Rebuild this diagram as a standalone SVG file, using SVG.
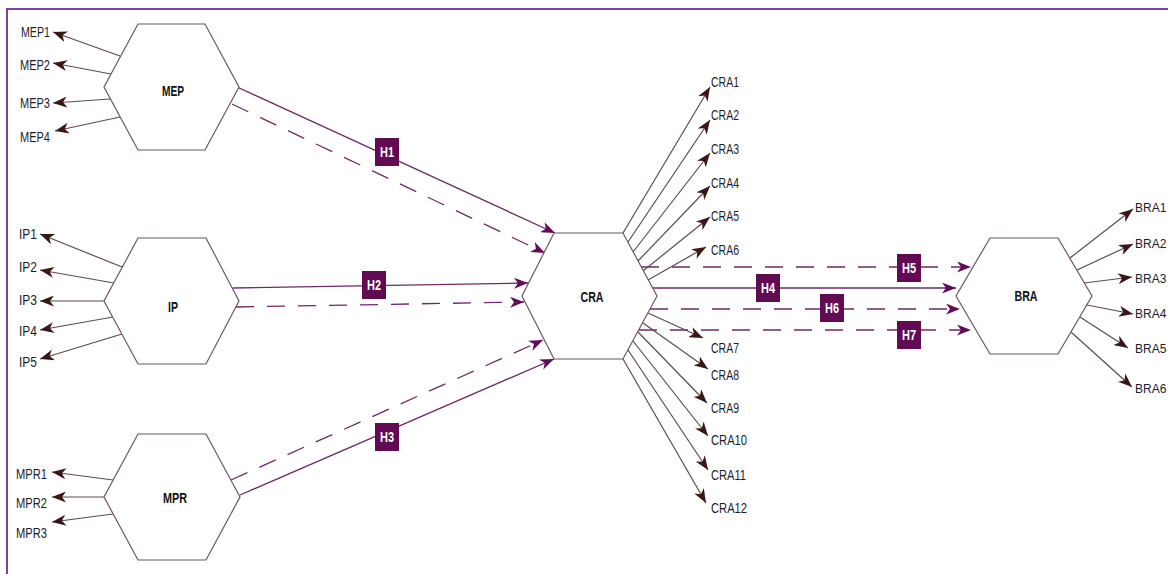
<svg xmlns="http://www.w3.org/2000/svg" width="1168" height="574" viewBox="0 0 1168 574">
<defs>
<style>
.hex{fill:#fff;stroke:#6e5464;stroke-width:1.2}
.hl{font-family:"Liberation Sans",Arial,sans-serif;font-weight:bold;font-size:14px;fill:#111;text-anchor:middle;dominant-baseline:central}
.lb{font-family:"Liberation Sans",Arial,sans-serif;font-size:14px;fill:#1c1c2c;dominant-baseline:central}
.le{text-anchor:end}
.sm{font-size:12px}
.out{stroke:#5e4a4e;stroke-width:1.2;fill:none;marker-end:url(#ab)}
.h{stroke:#6e2a62;stroke-width:1.3;fill:none;marker-end:url(#ap)}
.d{stroke-dasharray:18 13}
.box{fill:#620a52}
.bt{font-family:"Liberation Sans",Arial,sans-serif;font-weight:bold;font-size:14px;fill:#fff;text-anchor:middle;dominant-baseline:central}
</style>
<marker id="ab" markerUnits="userSpaceOnUse" markerWidth="15" markerHeight="11" refX="14" refY="5.5" orient="auto" viewBox="0 0 15 11">
<path d="M0,0 L14,5.5 L0,11 L4,5.5 z" fill="#3a1616"/>
</marker>
<marker id="ap" markerUnits="userSpaceOnUse" markerWidth="15" markerHeight="11" refX="14" refY="5.5" orient="auto" viewBox="0 0 15 11">
<path d="M0,0 L14,5.5 L0,11 L4,5.5 z" fill="#640a58"/>
</marker>
</defs>
<rect width="1168" height="574" fill="#fff"/>
<path d="M7,574 V9 H1168" fill="none" stroke="#7b3fae" stroke-width="2"/>

<g id="connectors">
<line class="h" x1="237" y1="87" x2="555" y2="233"/>
<line class="h d" x1="232" y1="104" x2="545" y2="253"/>
<line class="h" x1="233" y1="288" x2="528" y2="283"/>
<line class="h d" x1="236" y1="307" x2="524" y2="302"/>
<line class="h d" x1="231" y1="480" x2="543" y2="340"/>
<line class="h" x1="240" y1="495" x2="554" y2="359"/>
<line class="h" x1="653" y1="288" x2="956" y2="288"/>
<line class="h d" x1="641" y1="267" x2="971" y2="267"/>
<line class="h d" x1="650" y1="309" x2="960" y2="309"/>
<line class="h d" x1="639" y1="330" x2="971" y2="330"/>

<line class="out" x1="120" y1="56" x2="53" y2="32"/>
<line class="out" x1="111" y1="74" x2="53" y2="63"/>
<line class="out" x1="110" y1="99" x2="53" y2="103"/>
<line class="out" x1="120" y1="117" x2="55" y2="131"/>

<line class="out" x1="122" y1="267" x2="40" y2="234"/>
<line class="out" x1="114" y1="283" x2="40" y2="270"/>
<line class="out" x1="104" y1="301" x2="40" y2="301"/>
<line class="out" x1="113" y1="317" x2="40" y2="330"/>
<line class="out" x1="122" y1="334" x2="40" y2="359"/>

<line class="out" x1="113" y1="480" x2="52" y2="472"/>
<line class="out" x1="104" y1="497" x2="52" y2="497"/>
<line class="out" x1="113" y1="514" x2="52" y2="522"/>

<line class="out" x1="623" y1="233" x2="710" y2="87"/>
<line class="out" x1="628" y1="242" x2="710" y2="120"/>
<line class="out" x1="633" y1="252" x2="710" y2="153"/>
<line class="out" x1="638" y1="261" x2="710" y2="186"/>
<line class="out" x1="643" y1="271" x2="710" y2="217"/>
<line class="out" x1="648" y1="280" x2="706" y2="247"/>
<line class="out" x1="648" y1="313" x2="703" y2="338"/>
<line class="out" x1="643" y1="323" x2="708" y2="369"/>
<line class="out" x1="638" y1="332" x2="707" y2="403"/>
<line class="out" x1="633" y1="341" x2="708" y2="436"/>
<line class="out" x1="628" y1="350" x2="708" y2="470"/>
<line class="out" x1="623" y1="359" x2="706" y2="503"/>

<line class="out" x1="1070" y1="258" x2="1133" y2="209"/>
<line class="out" x1="1077" y1="270" x2="1133" y2="244"/>
<line class="out" x1="1084" y1="283" x2="1132" y2="277"/>
<line class="out" x1="1087" y1="305" x2="1133" y2="314"/>
<line class="out" x1="1080" y1="317" x2="1128" y2="348"/>
<line class="out" x1="1071" y1="332" x2="1132" y2="387"/>

<g id="hlabels">
<rect class="box" x="375" y="138" width="24" height="28"/><text class="bt" x="387" y="152" textLength="14" lengthAdjust="spacingAndGlyphs">H1</text>
<rect class="box" x="362" y="271" width="24" height="28"/><text class="bt" x="374" y="285" textLength="14" lengthAdjust="spacingAndGlyphs">H2</text>
<rect class="box" x="375" y="423" width="24" height="28"/><text class="bt" x="387" y="437" textLength="14" lengthAdjust="spacingAndGlyphs">H3</text>
<rect class="box" x="756" y="274" width="24" height="28"/><text class="bt" x="768" y="288" textLength="14" lengthAdjust="spacingAndGlyphs">H4</text>
<rect class="box" x="897" y="254" width="24" height="28"/><text class="bt" x="909" y="268" textLength="14" lengthAdjust="spacingAndGlyphs">H5</text>
<rect class="box" x="820" y="294" width="24" height="28"/><text class="bt" x="832" y="308" textLength="14" lengthAdjust="spacingAndGlyphs">H6</text>
<rect class="box" x="897" y="321" width="24" height="28"/><text class="bt" x="909" y="335" textLength="14" lengthAdjust="spacingAndGlyphs">H7</text>
</g>
</g>

<g id="MEP">
<polygon class="hex" points="138,24 205,24 239,87 205,150 138,150 104,87"/>
<text class="hl" x="173" y="91" textLength="22" lengthAdjust="spacingAndGlyphs">MEP</text>
<text class="lb le" x="50" y="32" textLength="29" lengthAdjust="spacingAndGlyphs">MEP1</text>
<text class="lb le" x="50" y="65" textLength="30" lengthAdjust="spacingAndGlyphs">MEP2</text>
<text class="lb le" x="50" y="103" textLength="30" lengthAdjust="spacingAndGlyphs">MEP3</text>
<text class="lb le" x="50" y="137" textLength="30" lengthAdjust="spacingAndGlyphs">MEP4</text>
</g>

<g id="IP">
<polygon class="hex" points="138,238 206,238 239,301 206,364 138,364 104,301"/>
<text class="hl" x="173" y="307" textLength="10" lengthAdjust="spacingAndGlyphs">IP</text>
<text class="lb le" x="37" y="234" textLength="18" lengthAdjust="spacingAndGlyphs">IP1</text>
<text class="lb le" x="37" y="267" textLength="18" lengthAdjust="spacingAndGlyphs">IP2</text>
<text class="lb le" x="37" y="300" textLength="18" lengthAdjust="spacingAndGlyphs">IP3</text>
<text class="lb le" x="37" y="331" textLength="18" lengthAdjust="spacingAndGlyphs">IP4</text>
<text class="lb le" x="37" y="362" textLength="18" lengthAdjust="spacingAndGlyphs">IP5</text>
</g>

<g id="MPR">
<polygon class="hex" points="138,434 206,434 240,497 206,560 138,560 104,497"/>
<text class="hl" x="175" y="498" textLength="24" lengthAdjust="spacingAndGlyphs">MPR</text>
<text class="lb le" x="47" y="474" textLength="31" lengthAdjust="spacingAndGlyphs">MPR1</text>
<text class="lb le" x="47" y="503" textLength="31" lengthAdjust="spacingAndGlyphs">MPR2</text>
<text class="lb le" x="47" y="533" textLength="31" lengthAdjust="spacingAndGlyphs">MPR3</text>
</g>

<g id="CRA">
<polygon class="hex" points="554,233 623,233 657,296 623,359 554,359 522,296"/>
<text class="hl" x="592" y="297" textLength="23" lengthAdjust="spacingAndGlyphs">CRA</text>
<text class="lb" x="711" y="82" textLength="28" lengthAdjust="spacingAndGlyphs">CRA1</text>
<text class="lb" x="711" y="115" textLength="28" lengthAdjust="spacingAndGlyphs">CRA2</text>
<text class="lb" x="711" y="149" textLength="28" lengthAdjust="spacingAndGlyphs">CRA3</text>
<text class="lb" x="711" y="183" textLength="28" lengthAdjust="spacingAndGlyphs">CRA4</text>
<text class="lb" x="711" y="216" textLength="28" lengthAdjust="spacingAndGlyphs">CRA5</text>
<text class="lb" x="711" y="250" textLength="28" lengthAdjust="spacingAndGlyphs">CRA6</text>
<text class="lb" x="711" y="348" textLength="28" lengthAdjust="spacingAndGlyphs">CRA7</text>
<text class="lb" x="711" y="375" textLength="28" lengthAdjust="spacingAndGlyphs">CRA8</text>
<text class="lb" x="711" y="408" textLength="28" lengthAdjust="spacingAndGlyphs">CRA9</text>
<text class="lb" x="711" y="440" textLength="36" lengthAdjust="spacingAndGlyphs">CRA10</text>
<text class="lb" x="711" y="475" textLength="35" lengthAdjust="spacingAndGlyphs">CRA11</text>
<text class="lb" x="711" y="508" textLength="36" lengthAdjust="spacingAndGlyphs">CRA12</text>
</g>

<g id="BRA">
<polygon class="hex" points="990,238 1058,238 1092,296 1058,354 990,354 956,296"/>
<text class="hl" x="1026" y="296" textLength="23" lengthAdjust="spacingAndGlyphs">BRA</text>
<text class="lb sm" x="1135" y="208">BRA1</text>
<text class="lb sm" x="1135" y="244">BRA2</text>
<text class="lb sm" x="1135" y="279">BRA3</text>
<text class="lb sm" x="1135" y="314">BRA4</text>
<text class="lb sm" x="1135" y="349">BRA5</text>
<text class="lb sm" x="1135" y="389">BRA6</text>
</g>
</svg>
